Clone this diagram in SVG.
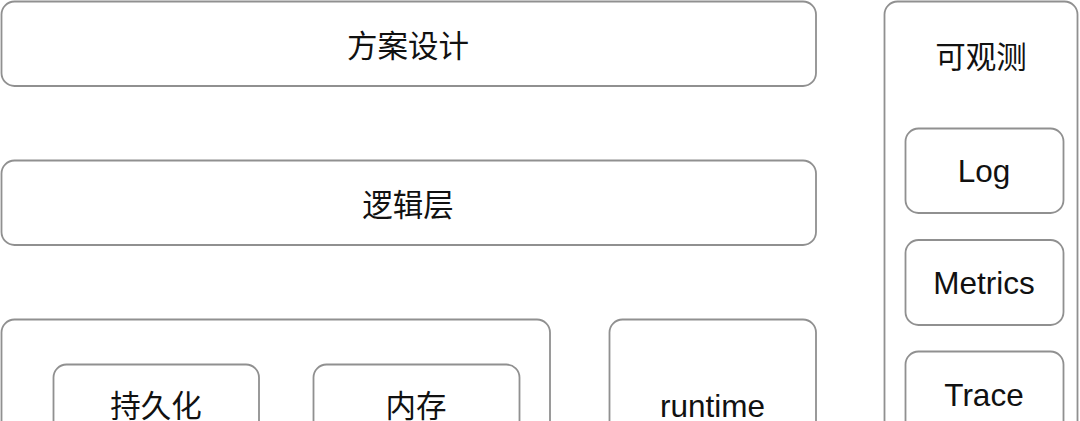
<svg xmlns="http://www.w3.org/2000/svg" width="1080" height="421" viewBox="0 0 1080 421">
<style>
.box{fill:#ffffff;stroke:#909090;stroke-width:1.8}
.t{font-family:"Liberation Sans","Noto Sans CJK SC",sans-serif;font-size:31.5px;fill:#111111;text-anchor:middle;dominant-baseline:central}
.cn{font-family:"Noto Sans CJK SC",sans-serif;font-size:30.5px;fill:#111111;text-anchor:middle;dominant-baseline:central}
</style>
<rect width="1080" height="421" fill="#ffffff"/>
<g id="design"><rect class="box" x="1.5" y="1.5" width="814.5" height="84.5" rx="13"/><text class="cn" x="408" y="44">方案设计</text></g>
<g id="logic"><rect class="box" x="1.5" y="160.5" width="814.5" height="84.5" rx="13"/><text class="cn" x="408" y="203">逻辑层</text></g>
<g id="storage"><rect class="box" x="1.5" y="319.5" width="548.5" height="130" rx="13"/>
<g id="persist"><rect class="box" x="53.5" y="364.5" width="205.5" height="85" rx="13"/><text class="cn" x="156" y="404">持久化</text></g>
<g id="memory"><rect class="box" x="313.5" y="364.5" width="206" height="85" rx="13"/><text class="cn" x="416" y="404">内存</text></g>
</g>
<g id="runtime"><rect class="box" x="609.5" y="319.5" width="206.5" height="130" rx="13"/><text class="t" x="712.5" y="406">runtime</text></g>
<g id="observe"><rect class="box" x="884.5" y="1.5" width="193" height="460" rx="13"/><text class="cn" x="981" y="55">可观测</text>
<g id="log"><rect class="box" x="905.5" y="128.5" width="158" height="84.5" rx="13"/><text class="t" x="984" y="171">Log</text></g>
<g id="metrics"><rect class="box" x="905.5" y="240" width="158" height="85" rx="13"/><text class="t" x="984" y="283">Metrics</text></g>
<g id="trace"><rect class="box" x="905.5" y="351.5" width="158" height="85" rx="13"/><text class="t" x="984" y="395">Trace</text></g>
</g>
<g id="connectors"/>
</svg>
